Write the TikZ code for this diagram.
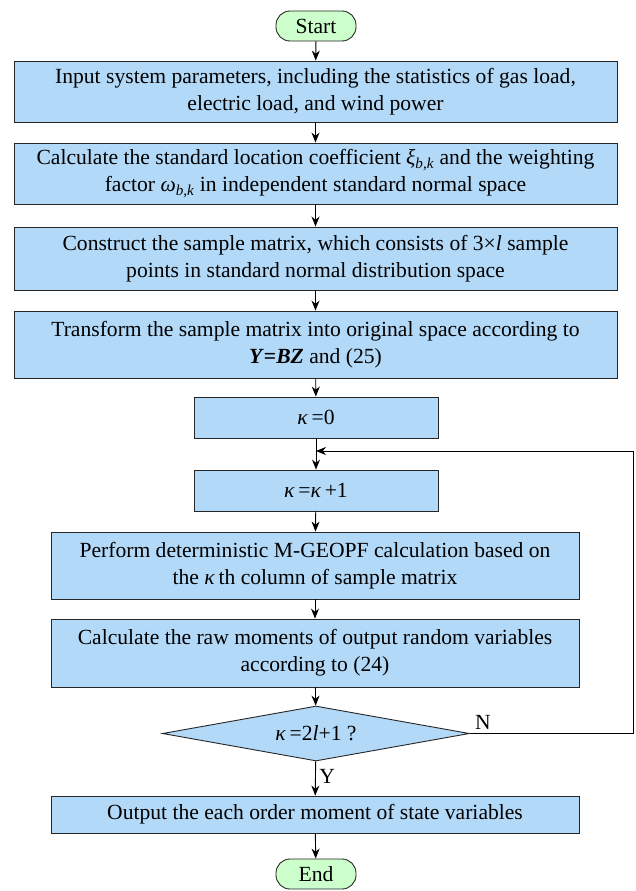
\documentclass[tikz,border=0pt]{standalone}
\usepackage{fontspec}
\setmainfont{Liberation Serif}
\usetikzlibrary{arrows.meta, shapes.geometric}
\definecolor{boxblue}{RGB}{179,217,248}
\definecolor{termgreen}{RGB}{204,255,204}

\begin{document}
\begin{tikzpicture}[x=1pt, y=-1pt, font=\fontsize{21.6}{27}\selectfont,
  proc/.style={draw=black!85, fill=boxblue, line width=0.9pt, align=center, inner sep=0pt},
  term/.style={draw=black!85, fill=termgreen, line width=0.9pt, rounded corners=14pt,
    minimum width=80pt, minimum height=30pt, inner sep=0pt},
  decide/.style={draw=black!85, fill=boxblue, line width=0.9pt, diamond, aspect=5.6,
    minimum width=307pt, minimum height=55pt, inner sep=0pt},
  flow/.style={-{Stealth[length=10pt, width=8pt]}, line width=0.9pt}]
\useasboundingbox (0,0) rectangle (635,891);

\node[term] (start) at (316,26) {Start};
\node[proc, minimum width=603pt, minimum height=61pt] (input) at (315.5,91.5)
  {Input system parameters, including the statistics of gas load,\\ electric load, and wind power};
\node[proc, minimum width=603pt, minimum height=61pt] (coef) at (315.5,173.5)
  {Calculate the standard location coefficient \textit{ξ}\textsubscript{\textit{b,k}} and the weighting\\
   factor \textit{ω}\textsubscript{\textit{b,k}} in independent standard normal space};
\node[proc, minimum width=603pt, minimum height=63pt] (matrix) at (315.5,258.5)
  {Construct the sample matrix, which consists of 3×\textit{l} sample\\ points in standard normal distribution space};
\node[proc, minimum width=603pt, minimum height=67pt] (transform) at (315.5,344.5)
  {Transform the sample matrix into original space according to\\ \textbf{\textit{Y}=\textit{BZ}} and (25)};
\node[proc, minimum width=244pt, minimum height=41pt] (init) at (316,417.5) {\textit{κ}\,=0};
\node[proc, minimum width=244pt, minimum height=41pt] (incr) at (316,490.5) {\textit{κ}\,=\textit{κ}\,+1};
\node[proc, minimum width=528pt, minimum height=67pt] (opf) at (315,565.5)
  {Perform deterministic M-GEOPF calculation based on\\ the \textit{κ}\,th column of sample matrix};
\node[proc, minimum width=528pt, minimum height=68pt] (moments) at (315,653)
  {Calculate the raw moments of output random variables\\ according to (24)};
\node[decide] (check) at (316,733.5) {\textit{κ}\,=2\textit{l}+1 ?};
\node[proc, minimum width=528pt, minimum height=37pt] (output) at (315,814.5)
  {Output the each order moment of state variables};
\node[term] (end) at (316,874) {End};

\coordinate (join) at (316,451);
\coordinate (loopx) at (633,0);

\draw[flow] (start) -- (input);
\draw[flow] (input) -- (coef);
\draw[flow] (coef) -- (matrix);
\draw[flow] (matrix) -- (transform);
\draw[flow] (transform) -- (init);
\draw[flow] (init) -- (incr);
\draw[flow] (incr) -- (opf);
\draw[flow] (opf) -- (moments);
\draw[flow] (moments) -- (check);
\draw[flow] (check) -- node[right, pos=0.45] {Y} (output);
\draw[flow] (output) -- (end);
% loop back when the test fails
\draw[flow] (check.east) -- node[above, pos=0.08] {N} (check.east -| loopx) |- (join);
\end{tikzpicture}
\end{document}
